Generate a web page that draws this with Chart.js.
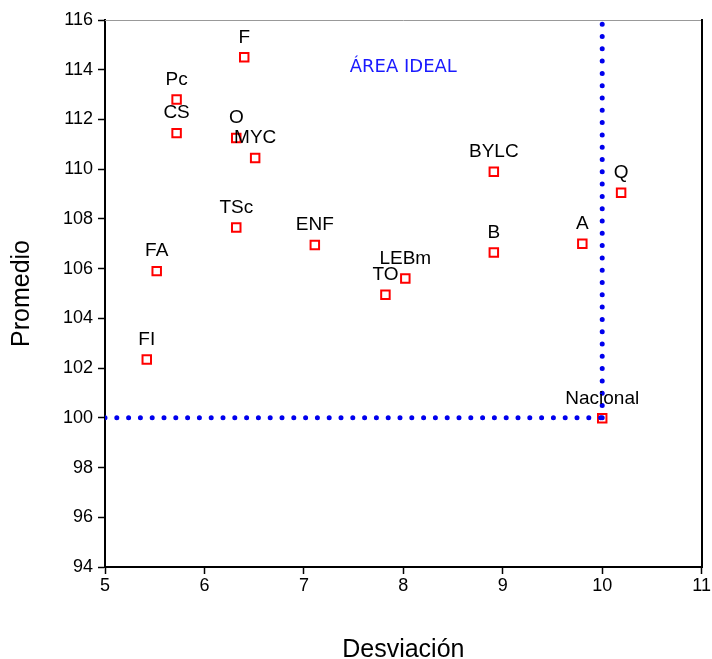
<!DOCTYPE html>
<html lang="es">
<head>
<meta charset="UTF-8">
<title>Promedio vs Desviación</title>
<script src="https://cdn.jsdelivr.net/npm/chart.js"></script>
<style>
  body { margin: 0; background: #fff; }
  #wrap { width: 712px; height: 659px; }
</style>
</head>
<body>
<div id="wrap"><canvas id="scatterChart" width="712" height="659"></canvas></div>
<script>
// data
const etiquetas = ['F', 'Pc', 'CS', 'O', 'MYC', 'TSc', 'ENF', 'FA', 'FI', 'TO', 'LEBm', 'BYLC', 'B', 'A', 'Q', 'Nacional'];
const desviacion = [6.4, 5.72, 5.72, 6.32, 6.51, 6.32, 7.11, 5.52, 5.42, 7.82, 8.02, 8.91, 8.91, 9.8, 10.19, 10.0];
const promedio = [114.5, 112.8, 111.45, 111.25, 110.45, 107.65, 106.95, 105.9, 102.35, 104.95, 105.6, 109.9, 106.65, 107.0, 109.05, 99.98];
const refX = 10;
const refY = 100;
const xTicks = [5, 6, 7, 8, 9, 10, 11];
const yTicks = [94, 96, 98, 100, 102, 104, 106, 108, 110, 112, 114, 116];

const puntos = desviacion.map((x, i) => ({ x: x, y: promedio[i] }));
const fuente = '"Liberation Sans", Arial, sans-serif';

// labels above the points + the "ÁREA IDEAL" note
const textPlugin = {
    id: 'textos',
    afterDatasetsDraw(chart) {
        const ctx = chart.ctx;
        const xs = chart.scales.x, ys = chart.scales.y;
        ctx.save();
        ctx.font = '19px ' + fuente;
        ctx.fillStyle = '#000';
        ctx.textAlign = 'center';
        ctx.textBaseline = 'middle';
        puntos.forEach((p, i) => {
            ctx.fillText(etiquetas[i], xs.getPixelForValue(p.x), ys.getPixelForValue(p.y) - 20);
        });
        ctx.font = '18px "DejaVu Sans", Verdana, sans-serif';
        ctx.fillStyle = '#1a1aff';
        ctx.fillText('ÁREA IDEAL', xs.getPixelForValue(8.0), ys.getPixelForValue(114.1));
        ctx.restore();
    }
};

const ejeGrid = { display: true, drawOnChartArea: false, drawTicks: true, tickLength: 7, tickWidth: 1.5, tickColor: '#000' };

const ctx = document.getElementById('scatterChart').getContext('2d');
new Chart(ctx, {
    type: 'scatter',
    data: {
        datasets: [
            {
                label: 'Vertical',
                type: 'line',
                data: [{ x: refX, y: refY }, { x: refX, y: 116 }],
                borderColor: '#0000ee',
                borderWidth: 5,
                borderDash: [0, 12.3],
                borderCapStyle: 'round',
                pointRadius: 0,
                fill: false
            },
            {
                label: 'Horizontal',
                type: 'line',
                data: [{ x: 5, y: refY }, { x: refX + 0.1, y: refY }],
                borderColor: '#0000ee',
                borderWidth: 5,
                borderDash: [0, 11.8],
                borderCapStyle: 'round',
                pointRadius: 0,
                fill: false
            },
            {
                label: 'Grupos',
                data: puntos,
                pointStyle: 'rect',
                pointRadius: 6,
                pointBorderWidth: 2,
                borderColor: '#ff0000',
                backgroundColor: '#ffffff'
            }
        ]
    },
    options: {
        responsive: false,
        animation: false,
        layout: { padding: { top: 20, right: 6, left: 0, bottom: 0 } },
        plugins: {
            legend: { display: false },
            tooltip: { enabled: false }
        },
        scales: {
            x: {
                type: 'linear',
                min: 5,
                max: 11,
                afterBuildTicks: (axis) => { axis.ticks = xTicks.map(v => ({ value: v })); },
                grid: ejeGrid,
                border: { color: '#000', width: 2 },
                ticks: { color: '#000', font: { size: 18, family: fuente }, padding: 1 },
                title: {
                    display: true,
                    text: 'Desviación',
                    color: '#000',
                    font: { size: 25, family: fuente },
                    padding: { top: 38, bottom: -6 }
                },
                afterFit: (axis) => { axis.height = 92; }
            },
            y: {
                type: 'linear',
                min: 94,
                max: 116,
                afterBuildTicks: (axis) => { axis.ticks = yTicks.map(v => ({ value: v })); },
                grid: ejeGrid,
                border: { color: '#000', width: 2 },
                ticks: { color: '#000', font: { size: 18, family: fuente }, padding: 5 },
                title: {
                    display: true,
                    text: 'Promedio',
                    color: '#000',
                    font: { size: 25, family: fuente },
                    padding: { top: 7, bottom: 20 }
                },
                afterFit: (axis) => { axis.width = 105; }
            },
            x2: {
                type: 'linear', position: 'top', min: 5, max: 11,
                grid: { display: false, drawTicks: false },
                border: { color: '#999', width: 1 },
                ticks: { display: false },
                afterFit: (axis) => { axis.height = 0; }
            },
            y2: {
                type: 'linear', position: 'right', min: 94, max: 116,
                grid: { display: false, drawTicks: false },
                border: { color: '#000', width: 2 },
                ticks: { display: false },
                afterFit: (axis) => { axis.width = 0; }
            }
        }
    },
    plugins: [textPlugin]
});
</script>
</body>
</html>
